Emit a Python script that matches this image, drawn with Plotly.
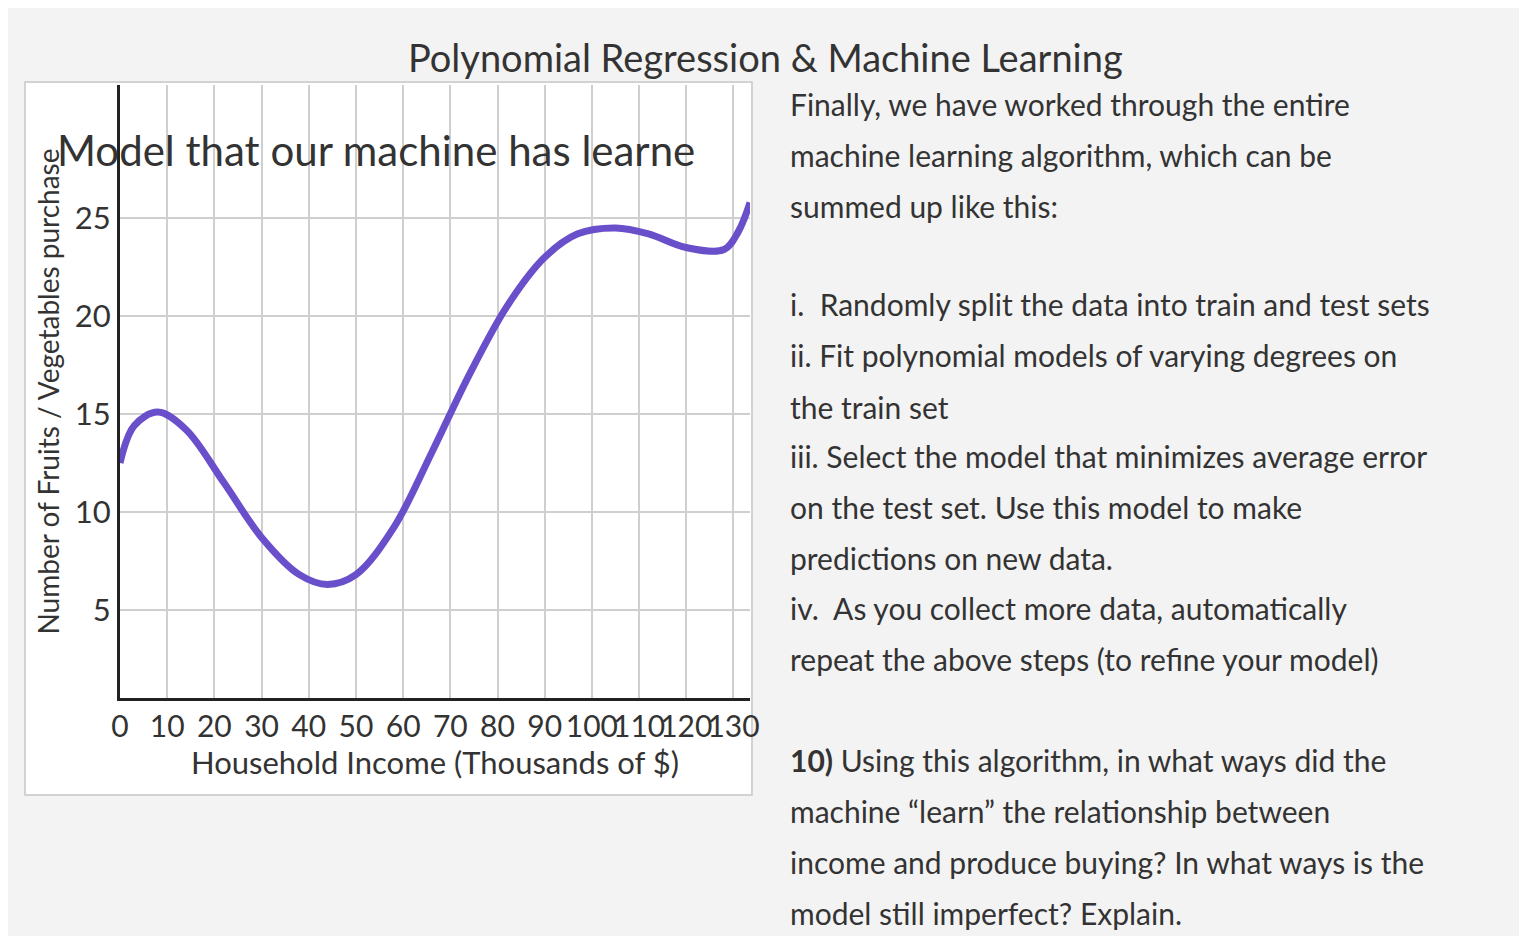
import plotly.graph_objects as go

income = [0, 3, 8, 14, 22, 30, 38, 44, 50, 58, 66, 74, 82, 90, 97, 105, 112, 120, 128, 131, 133.5]
fruits = [12.5, 14.4, 15.1, 14.2, 11.5, 8.7, 6.8, 6.3, 6.8, 9.2, 13.0, 17.0, 20.5, 23.0, 24.2, 24.5, 24.2, 23.5, 23.4, 24.3, 25.8]
x_ticks = [0, 10, 20, 30, 40, 50, 60, 70, 80, 90, 100, 110, 120, 130]
y_ticks = [5, 10, 15, 20, 25]

W, H = 1511, 928
OX, OY = 8, 8
def px(x): return (x - OX) / W
def py(y): return 1 - (y - OY) / H

fig = go.Figure()
fig.add_trace(go.Scatter(x=income, y=fruits, mode="lines",
                         line=dict(color="#6a4fcb", width=7, shape="spline", smoothing=1.0),
                         showlegend=False))

FONT = "Lato, Noto Sans, sans-serif"
fig.update_layout(
    width=W, height=H, margin=dict(l=0, r=0, t=0, b=0, autoexpand=False),
    paper_bgcolor="#f3f3f3", plot_bgcolor="white",
    font=dict(family=FONT, color="#333"),
    xaxis=dict(domain=[px(120), px(750)], range=[0, 133.5], tickvals=x_ticks, tickangle=0,
               automargin=False,
               showgrid=True, gridcolor="#cfcfcf", gridwidth=1.5,
               showline=True, linecolor="#222", linewidth=3, zeroline=False,
               tickfont=dict(size=30, color="#333"), ticks="",
               title=dict(text="Household Income (Thousands of $)", font=dict(size=31), standoff=0)),
    yaxis=dict(domain=[py(698), py(85)], range=[0.5, 31.8], tickvals=y_ticks,
               automargin=False,
               showgrid=True, gridcolor="#cfcfcf", gridwidth=1.5,
               showline=True, linecolor="#222", linewidth=3, zeroline=False,
               tickfont=dict(size=31, color="#333"), ticks="",
               title=dict(text="Number of Fruits / Vegetables purchase", font=dict(size=28), standoff=8)),
)

fig.add_shape(type="rect", xref="paper", yref="paper", x0=px(25), x1=px(752), y0=py(795), y1=py(82),
              line=dict(color="#c8c8c8", width=1.5), fillcolor="rgba(0,0,0,0)", layer="below")
fig.add_shape(type="rect", xref="paper", yref="paper", x0=px(26), x1=px(751), y0=py(794), y1=py(83),
              line=dict(width=0), fillcolor="white", layer="below")

fig.add_annotation(text="Polynomial Regression & Machine Learning", xref="paper", yref="paper",
                   x=px(765), y=py(32), showarrow=False, font=dict(size=38, color="#333"))
fig.add_annotation(text="Model that our machine has learne", xref="paper", yref="paper",
                   x=px(55), y=py(123), xanchor="left", showarrow=False, font=dict(size=42, color="#333"))

lines = [
    (104, "Finally, we have worked through the entire"),
    (155, "machine learning algorithm, which can be"),
    (206, "summed up like this:"),
    (304, "i.  Randomly split the data into train and test sets"),
    (355, "ii. Fit polynomial models of varying degrees on"),
    (407, "the train set"),
    (456, "iii. Select the model that minimizes average error"),
    (507, "on the test set. Use this model to make"),
    (558, "predictions on new data."),
    (608, "iv.  As you collect more data, automatically"),
    (659, "repeat the above steps (to refine your model)"),
    (760, "<b>10)</b> Using this algorithm, in what ways did the"),
    (811, "machine \u201clearn\u201d the relationship between"),
    (862, "income and produce buying? In what ways is the"),
    (913, "model still imperfect? Explain."),
]
for y, t in lines:
    fig.add_annotation(text=t, xref="paper", yref="paper", x=px(788), y=py(y),
                       xanchor="left", yanchor="middle", showarrow=False,
                       font=dict(size=30, color="#333"))

fig.write_html("out.html")
